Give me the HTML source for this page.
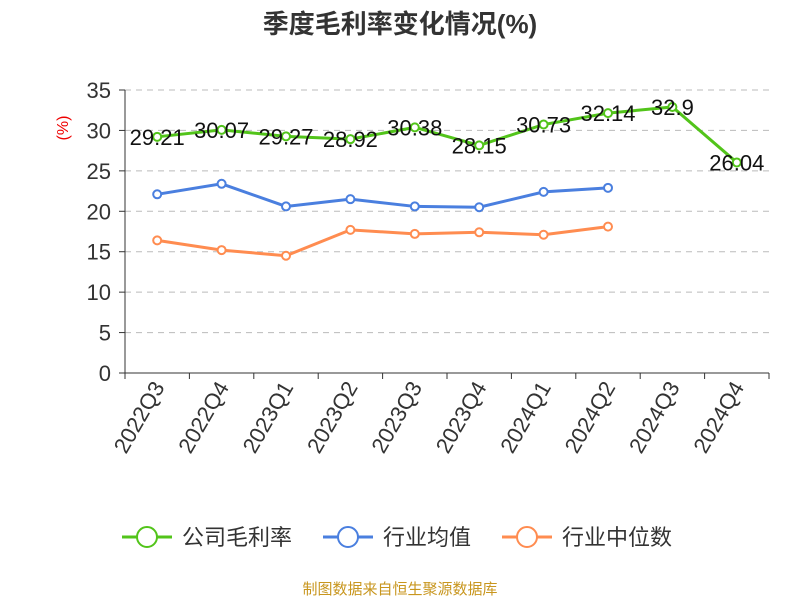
<!DOCTYPE html>
<html><head><meta charset="utf-8"><style>
body{margin:0;background:#fff;}
svg text{font-family:"Liberation Sans","Noto Sans CJK SC",sans-serif;}
</style></head><body>
<svg id="c" width="800" height="600" xmlns="http://www.w3.org/2000/svg">
<text x="400" y="33" text-anchor="middle" font-size="26" font-weight="bold" fill="#333">季度毛利率变化情况(%)</text>
<text x="68" y="128" text-anchor="middle" font-size="16" fill="#e00" transform="rotate(-90 68 128)">(%)</text>
<g id="grid"></g><g id="axes"></g><g id="series"></g>
<g>
<g><line x1="122" y1="537" x2="172" y2="537" stroke="#52c41a" stroke-width="3"/><circle cx="147" cy="537" r="10" fill="#fff" stroke="#52c41a" stroke-width="2"/><text x="182" y="545" font-size="22" fill="#333">公司毛利率</text></g>
<g><line x1="323" y1="537" x2="373" y2="537" stroke="#4a7fdf" stroke-width="3"/><circle cx="348" cy="537" r="10" fill="#fff" stroke="#4a7fdf" stroke-width="2"/><text x="383" y="545" font-size="22" fill="#333">行业均值</text></g>
<g><line x1="502" y1="537" x2="552" y2="537" stroke="#ff8c50" stroke-width="3"/><circle cx="527" cy="537" r="10" fill="#fff" stroke="#ff8c50" stroke-width="2"/><text x="562" y="545" font-size="22" fill="#333">行业中位数</text></g>
</g>
<text x="400" y="594" text-anchor="middle" font-size="15" fill="#c8961e">制图数据来自恒生聚源数据库</text>
</svg>
<script>
const categories=["2022Q3","2022Q4","2023Q1","2023Q2","2023Q3","2023Q4","2024Q1","2024Q2","2024Q3","2024Q4"];
const company=[29.21,30.07,29.27,28.92,30.38,28.15,30.73,32.14,32.9,26.04];
const industryAvg=[22.1,23.4,20.6,21.5,20.6,20.5,22.4,22.9];
const industryMedian=[16.4,15.2,14.5,17.7,17.2,17.4,17.1,18.1];
const yTicks=[0,5,10,15,20,25,30,35];
const NS="http://www.w3.org/2000/svg";
const L=125,R=769,T=90,B=373,YMAX=35;
const bw=(R-L)/categories.length;
const x=i=>L+bw*(i+0.5);
const y=v=>B-(v/YMAX)*(B-T);
function mk(tag,attrs,parent){const e=document.createElementNS(NS,tag);for(const k in attrs)e.setAttribute(k,attrs[k]);parent.appendChild(e);return e;}
const grid=document.getElementById('grid'),axes=document.getElementById('axes'),ser=document.getElementById('series');
yTicks.forEach(t=>{
  if(t>0){const g=mk('line',{x1:L,x2:R,y1:y(t),y2:y(t),stroke:'#bbb','stroke-dasharray':'6,5'},grid);
  
  }
  const tx=mk('text',{x:L-14,y:y(t)+8,'text-anchor':'end','font-size':'22',fill:'#333'},axes);tx.textContent=t;
  
  
  mk('line',{x1:L-6,x2:L,y1:y(t),y2:y(t),stroke:'#333'},axes);
});
const ya=mk('line',{x1:L,x2:L,y1:T,y2:B,stroke:'#333'},axes);


const xa=mk('line',{x1:L,x2:R,y1:B,y2:B,stroke:'#333'},axes);


for(let i=0;i<=categories.length;i++)mk('line',{x1:L+bw*i,x2:L+bw*i,y1:B,y2:B+6,stroke:'#333'},axes);
categories.forEach((c,i)=>{
  const px=x(i)+8,py=B+14;
  const t=mk('text',{x:px,y:py,'text-anchor':'end','font-size':'22',fill:'#333',transform:`rotate(-60 ${px} ${py})`},axes);t.textContent=c;
  
  
});
function series(vals,color,name,labels){
  const g=mk('g',{},ser);
  
  
  const p=mk('polyline',{points:vals.map((v,i)=>x(i)+','+y(v)).join(' '),fill:'none',stroke:color,'stroke-width':3},g);
  
  
  vals.forEach((v,i)=>{
    const c=mk('circle',{cx:x(i),cy:y(v),r:4,fill:'#fff',stroke:color,'stroke-width':2},g);
    
    
    if(labels){const t=mk('text',{x:x(i),y:y(v)+8,'text-anchor':'middle','font-size':'22',fill:'#111'},g);t.textContent=v;
    
    }
  });
}
series(industryMedian,'#ff8c50','industry-median-series',false);
series(industryAvg,'#4a7fdf','industry-avg-series',false);
series(company,'#52c41a','company-series',true);
</script>
</body></html>
